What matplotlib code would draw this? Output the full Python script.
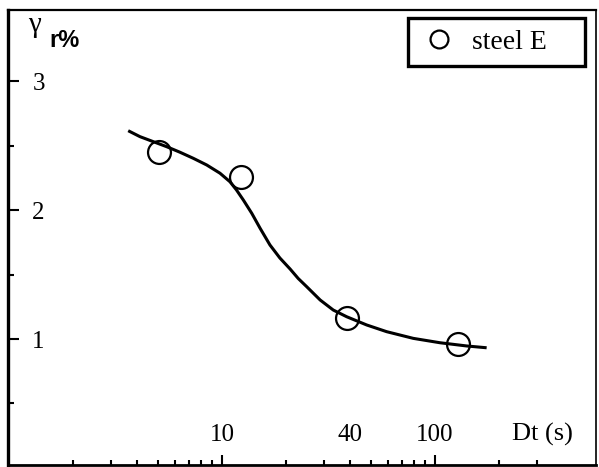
import numpy as np
import matplotlib
matplotlib.use('Agg')
import matplotlib.pyplot as plt
from matplotlib.ticker import FixedLocator, FuncFormatter

# --- Data ---
t_pts = [5.06, 12.3, 38.6, 128.0]        # Dt [s]
g_pts = [2.45, 2.26, 1.16, 0.96]         # gamma_r [%]

# fitted curve
curve_t = [3.63, 4.12, 4.76, 5.50, 6.35, 7.33, 8.48, 9.79, 10.9, 11.7,
           12.6, 13.8, 15.1, 16.8, 18.7, 20.9, 22.8, 25.0, 28.9, 33.3,
           38.5, 47.8, 59.3, 79.1, 105.6, 140.9, 174.8]
curve_g = [2.617, 2.571, 2.532, 2.493, 2.450, 2.403, 2.351, 2.287, 2.221,
           2.157, 2.079, 1.976, 1.860, 1.730, 1.629, 1.543, 1.470, 1.406,
           1.303, 1.225, 1.173, 1.109, 1.057, 1.005, 0.971, 0.946, 0.932]

x_major = [10, 100]
x_major_labels = ['10', '100']
x_minor = [2, 3, 4, 5, 6, 7, 8, 9, 20, 30, 40, 50, 60, 70, 80, 90, 200, 300]
x_minor_labeled = {40: '40'}
y_major = [1, 2, 3]
y_minor = [0.5, 1.5, 2.5]

plt.rcParams['font.family'] = ['Liberation Serif', 'DejaVu Serif']

fig = plt.figure(figsize=(5.99, 4.67), dpi=100)
ax = fig.add_axes([8 / 599, 2 / 467, 588 / 599, 455 / 467])

ax.plot(curve_t, curve_g, color='black', lw=2.2, zorder=2,
        solid_joinstyle='round', solid_capstyle='butt')
ax.plot(t_pts, g_pts, linestyle='none', marker='o', markersize=16.5,
        markerfacecolor='none', markeredgecolor='black', markeredgewidth=1.6,
        label='steel E', zorder=3)

ax.set_xscale('log')
ax.set_xlim(0.99, 570)
ax.set_ylim(0.022, 3.554)

ax.xaxis.set_major_locator(FixedLocator(x_major))
ax.xaxis.set_major_formatter(FuncFormatter(
    lambda v, p: x_major_labels[x_major.index(round(v))] if round(v) in x_major else ''))
ax.xaxis.set_minor_locator(FixedLocator(x_minor))
ax.xaxis.set_minor_formatter(FuncFormatter(
    lambda v, p: x_minor_labeled.get(int(round(v)), '')))

ax.set_yticks(y_major)
ax.set_yticklabels([str(v) for v in y_major])
ax.set_yticks(y_minor, minor=True)

ax.tick_params(axis='x', which='both', direction='in', labelsize=18, pad=-29.5, width=1.5)
ax.tick_params(axis='x', which='major', length=7)
ax.tick_params(axis='x', which='minor', length=3.5)
ax.tick_params(axis='y', which='both', direction='in', labelsize=18, pad=-26.5, width=1.5)
ax.tick_params(axis='y', which='major', length=8)
ax.tick_params(axis='y', which='minor', length=4.5)

ax.spines['left'].set_linewidth(2.4)
ax.spines['bottom'].set_linewidth(2.0)
ax.spines['top'].set_linewidth(1.6)
ax.spines['right'].set_linewidth(1.2)

# axis titles written inside the frame
ax.text(0.034, 0.951, '\u03b3', transform=ax.transAxes, fontsize=21,
        ha='left', va='baseline')
ax.text(0.071, 0.919, 'r%', transform=ax.transAxes, fontsize=17,
        family='Liberation Sans', fontweight='bold', ha='left', va='baseline')
ax.text(0.857, 0.053, 'Dt (s)', transform=ax.transAxes, fontsize=19,
        ha='left', va='baseline')

leg = ax.legend(loc='upper left', bbox_to_anchor=(0.680, 0.882, 0.301, 0.1),
                mode='expand', borderaxespad=0, borderpad=0.4, fontsize=20,
                handlelength=1.44, handletextpad=0.47, markerscale=0.78,
                fancybox=False, framealpha=1, edgecolor='black')
leg.get_frame().set_linewidth(2.4)

fig.savefig('out.png', dpi=100)
